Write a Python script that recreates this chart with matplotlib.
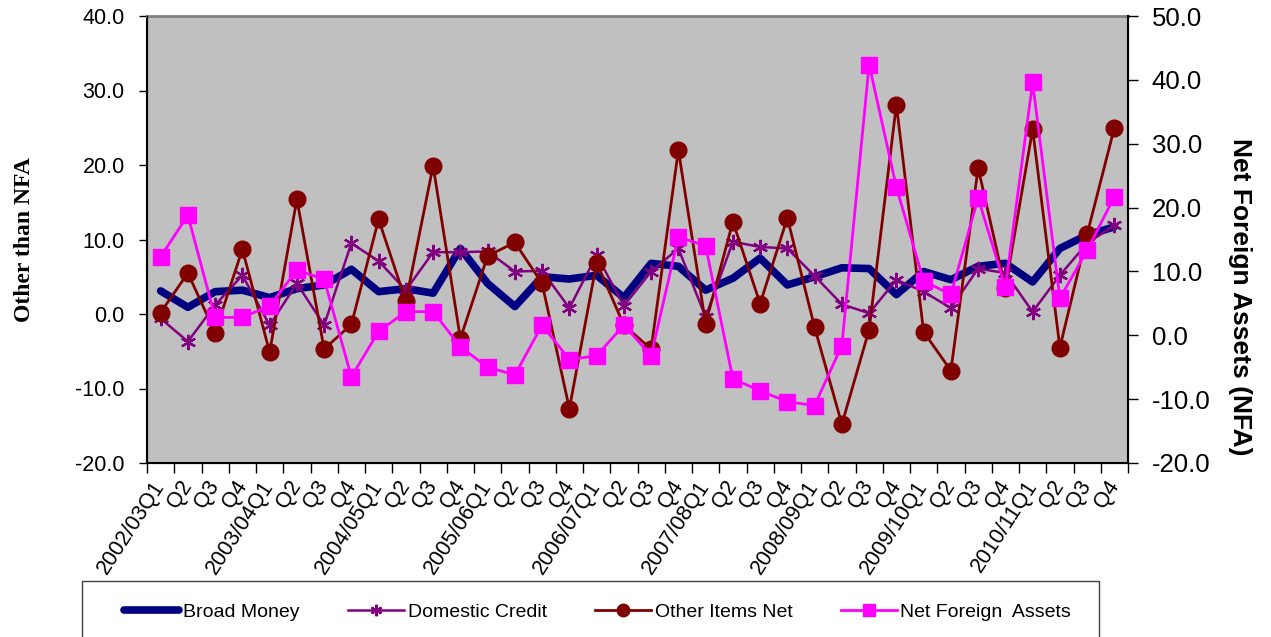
import matplotlib
matplotlib.use("Agg")
import matplotlib.pyplot as plt
from matplotlib.patches import Rectangle

plt.rcParams['font.family'] = ['Liberation Sans', 'DejaVu Sans']

# quarter labels
years = ['2002/03', '2003/04', '2004/05', '2005/06', '2006/07',
         '2007/08', '2008/09', '2009/10', '2010/11']
quarters = []
for y in years:
    quarters += [y + 'Q1', 'Q2', 'Q3', 'Q4']

# series values (left axis)
broad_money = [3.1, 0.9, 3.0, 3.2, 2.2, 3.4, 3.9, 6.0, 3.0, 3.4, 2.8, 8.8,
               4.1, 1.0, 5.0, 4.7, 5.2, 2.2, 6.8, 6.4, 3.2, 4.8, 7.5, 3.9,
               5.0, 6.2, 6.1, 2.6, 5.7, 4.6, 6.4, 6.8, 4.3, 8.8, 10.6, 11.7]
domestic_credit = [-0.6, -3.7, 1.2, 5.2, -1.5, 4.1, -1.5, 9.5, 7.1, 3.2, 8.3, 8.3,
                   8.4, 5.7, 5.8, 0.8, 7.9, 1.1, 5.7, 8.8, -0.4, 9.7, 9.0, 8.8,
                   5.1, 1.3, 0.1, 4.6, 3.0, 0.8, 6.1, 5.5, 0.3, 5.2, 9.5, 11.9]
other_items = [0.2, 5.5, -2.5, 8.7, -5.1, 15.4, -4.7, -1.4, 12.7, 1.7, 19.9, -3.3,
               7.8, 9.6, 4.1, -12.7, 6.9, -1.5, -4.7, 22.0, -1.3, 12.4, 1.4, 12.9,
               -1.8, -14.8, -2.1, 28.1, -2.4, -7.6, 19.6, 3.5, 24.8, -4.5, 10.7, 25.0]
# right axis
nfa = [12.3, 18.8, 2.8, 2.8, 4.6, 10.2, 8.8, -6.5, 0.6, 3.7, 3.7, -1.8,
       -5.0, -6.2, 1.6, -3.8, -3.2, 1.6, -3.2, 15.4, 14.0, -6.8, -8.7, -10.4,
       -11.0, -1.6, 42.4, 23.2, 8.5, 6.4, 21.5, 7.5, 39.6, 5.8, 13.3, 21.7]

W, H = 1271, 637
fig = plt.figure(figsize=(W / 100, H / 100), dpi=100)
ax = fig.add_axes([147 / W, (H - 463) / H, 981 / W, 447 / H])
ax.set_facecolor('#C0C0C0')
ax2 = ax.twinx()

x = list(range(len(quarters)))

l1, = ax.plot(x, broad_money, color='#000080', lw=5.5, solid_capstyle='round',
              label='Broad Money', zorder=3)
l2, = ax.plot(x, domestic_credit, color='#800080', lw=1.8, marker=(6, 2, 0),
              ms=11, mew=1.6, label='Domestic Credit', zorder=4)
l3, = ax.plot(x, other_items, color='#800000', lw=2.0, marker='o', ms=12,
              label='Other Items Net', zorder=5)
l4, = ax2.plot(x, nfa, color='#FF00FF', lw=2.0, marker='s', ms=11,
               label='Net Foreign  Assets', zorder=6)

ax.set_xlim(-0.5, len(quarters) - 0.5)
ax.set_ylim(-20, 40)
ax2.set_ylim(-20, 50)
ax.set_yticks(range(-20, 41, 10))
ax2.set_yticks(range(-20, 51, 10))
ax.set_yticklabels([f'{v:.1f}' for v in range(-20, 41, 10)], fontsize=15.5)
ax2.set_yticklabels([f'{v:.1f}' for v in range(-20, 51, 10)], fontsize=18.5)

ax.set_xticks(x)
ax.set_xticklabels(quarters, rotation=57, ha='right', va='center',
                   rotation_mode='anchor', fontsize=15.5)
ax.set_xticks([i - 0.5 for i in range(len(quarters) + 1)], minor=True)
ax.tick_params(axis='x', which='major', length=0, pad=14)
ax.tick_params(axis='x', which='minor', length=7, direction='out', width=1)
ax.tick_params(axis='y', length=6, direction='out', width=1, pad=10)
ax2.tick_params(axis='y', length=7, direction='out', width=1, pad=10)

for s in ['left', 'bottom']:
    ax.spines[s].set_linewidth(1.5)
ax.spines['top'].set_color('#808080')
ax.spines['top'].set_linewidth(2)
ax2.spines['top'].set_visible(False)
ax2.spines['right'].set_linewidth(1.5)

ax.set_ylabel('Other than NFA', family=['Liberation Serif'], fontweight='bold',
              fontsize=17)
ax.yaxis.set_label_coords(-0.114, 0.5)
ax2.set_ylabel('Net Foreign Assets (NFA)', fontweight='bold', fontsize=19,
               rotation=270, va='center')
ax2.yaxis.set_label_coords(1.114, 0.371)

# legend box at bottom
fig.add_artist(Rectangle((82 / W, -20 / H), (1099 - 82) / W, (H - 581 + 20) / H,
                         transform=fig.transFigure, fill=False,
                         edgecolor='#404040', lw=1))
fig.legend([l1, l2, l3, l4], [l.get_label() for l in [l1, l2, l3, l4]],
           ncol=4, frameon=False, loc='center left',
           bbox_to_anchor=(124 / W, 1 - 612 / H), fontsize=14,
           handlelength=2.85, handletextpad=0.2, columnspacing=2.5,
           markerscale=0.75, borderpad=0, borderaxespad=0)

fig.savefig('out.png', dpi=100)
